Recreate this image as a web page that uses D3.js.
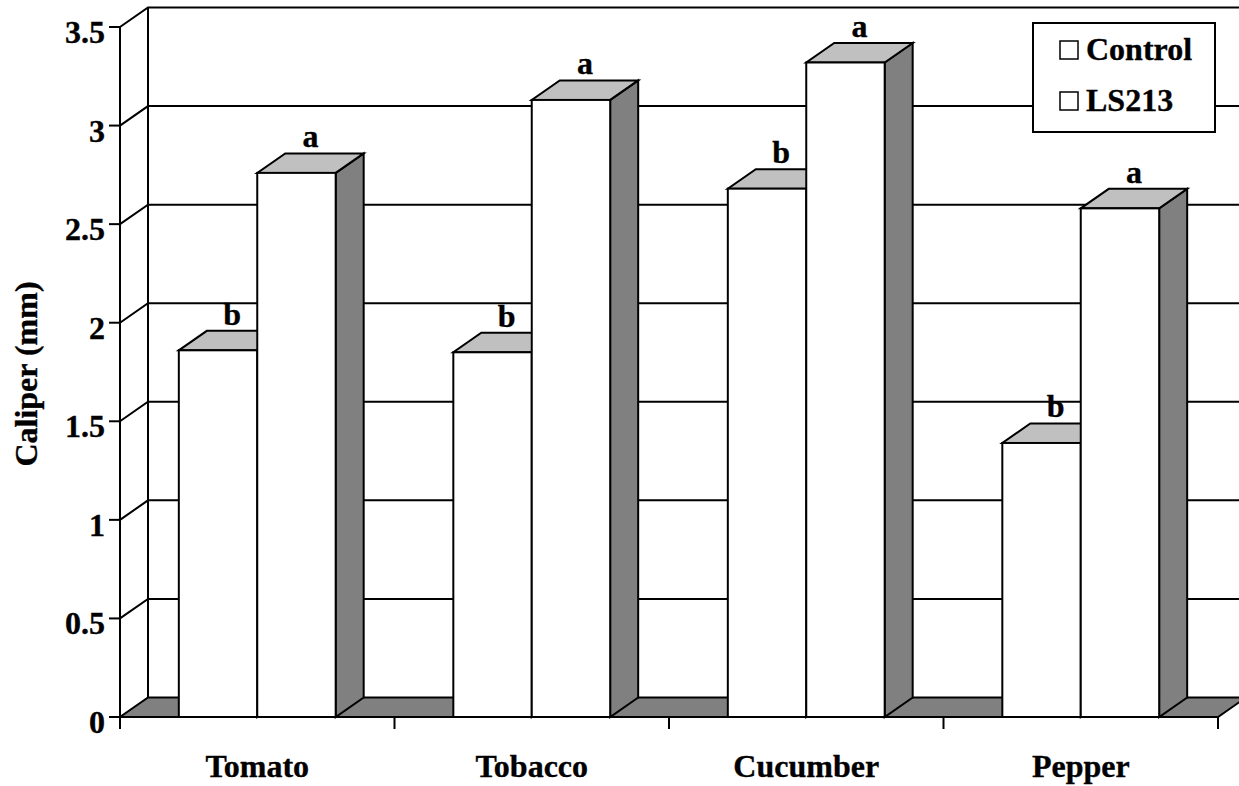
<!DOCTYPE html>
<html>
<head>
<meta charset="utf-8">
<script src="https://cdn.jsdelivr.net/npm/d3@7"></script>
<style>
  html, body { margin: 0; padding: 0; background: #fff; }
  svg { display: block; }
  text { font-family: "Liberation Serif", "Times New Roman", serif; font-weight: bold; fill: #000;
         stroke: #000; stroke-width: 0.35px; }
</style>
</head>
<body>
<script>
// Stem caliper by crop and treatment
const categories = ["Tomato", "Tobacco", "Cucumber", "Pepper"];
const seriesNames = ["Control", "LS213"];
const controlValues = [1.86, 1.85, 2.68, 1.39];
const ls213Values = [2.76, 3.13, 3.32, 2.58];
const controlLetters = ["b", "b", "b", "b"];
const ls213Letters = ["a", "a", "a", "a"];
const yTickValues = [0, 0.5, 1, 1.5, 2, 2.5, 3, 3.5];
const yTitle = "Caliper (mm)";

const W = 1239, H = 786;
const DX = 28, DY = -19.5;          // depth offset of the 3-D box
const STROKE = 2;
const FONT = 32;

const svg = d3.select("body").append("svg")
  .attr("width", W).attr("height", H);

const y = d3.scaleLinear().domain([0, 3.5]).range([717, 27]);
const x = d3.scaleBand().domain(categories).range([120, 1218]).padding(0);
const xs = d3.scaleBand().domain(seriesNames)
  .range([0, x.bandwidth()]).paddingInner(0).paddingOuter(0.75);

const x0 = x.range()[0], x1 = x.range()[1];
const yTop = y(3.5), yBase = y(0);

const pts = p => p.map(d => d.join(",")).join(" ");

// back wall
svg.append("rect")
  .attr("x", x0 + DX).attr("y", yTop + DY)
  .attr("width", x1 - x0).attr("height", yBase - yTop)
  .attr("fill", "#fff");

// gridlines across back wall and side wall
const grid = svg.append("g").attr("stroke", "#000").attr("stroke-width", STROKE).attr("fill", "none");
yTickValues.filter(v => v > 0).forEach(v => {
  grid.append("polyline")
    .attr("points", pts([[x0, y(v)], [x0 + DX, y(v) + DY], [x1 + DX, y(v) + DY]]));
});
// wall edges
grid.append("line")
  .attr("x1", x0 + DX).attr("y1", yTop + DY).attr("x2", x0 + DX).attr("y2", yBase + DY);
grid.append("line")
  .attr("x1", x0).attr("y1", yTop).attr("x2", x0).attr("y2", yBase);

// floor
svg.append("polygon")
  .attr("points", pts([[x0, yBase], [x1, yBase], [x1 + DX, yBase + DY], [x0 + DX, yBase + DY]]))
  .attr("fill", "#808080").attr("stroke", "#000").attr("stroke-width", STROKE)
  .attr("stroke-linejoin", "miter");

// bars
const seriesData = [
  { name: "Control", values: controlValues, letters: controlLetters },
  { name: "LS213", values: ls213Values, letters: ls213Letters }
];
const bars = svg.append("g");
categories.forEach((c, i) => {
  seriesData.forEach(s => {
    const v = s.values[i];
    const bx = x(c) + xs(s.name), bw = xs.bandwidth();
    const ty = y(v);
    const g = bars.append("g")
      .attr("stroke", "#000").attr("stroke-width", STROKE).attr("stroke-linejoin", "miter");
    // side face
    g.append("polygon")
      .attr("points", pts([[bx + bw, yBase], [bx + bw, ty], [bx + bw + DX, ty + DY], [bx + bw + DX, yBase + DY]]))
      .attr("fill", "#808080");
    // top face
    g.append("polygon")
      .attr("points", pts([[bx, ty], [bx + bw, ty], [bx + bw + DX, ty + DY], [bx + DX, ty + DY]]))
      .attr("fill", "#c0c0c0");
    // front face
    g.append("rect")
      .attr("x", bx).attr("y", ty).attr("width", bw).attr("height", yBase - ty)
      .attr("fill", "#fff");
    // significance letter
    bars.append("text")
      .attr("x", bx + bw / 2 + DX / 2).attr("y", ty + DY - 6)
      .attr("text-anchor", "middle").attr("font-size", FONT)
      .text(s.letters[i]);
  });
});

// y axis front line, ticks and labels
const yAxis = svg.append("g");
yAxis.append("line")
  .attr("x1", x0).attr("y1", yTop).attr("x2", x0).attr("y2", yBase)
  .attr("stroke", "#000").attr("stroke-width", STROKE);
yTickValues.forEach(v => {
  yAxis.append("line")
    .attr("x1", x0 - 11).attr("x2", x0).attr("y1", y(v)).attr("y2", y(v))
    .attr("stroke", "#000").attr("stroke-width", STROKE);
  yAxis.append("text")
    .attr("x", x0 - 15).attr("y", y(v) + 16)
    .attr("text-anchor", "end").attr("font-size", FONT)
    .text(d3.format("~g")(v));
});

// x axis ticks at category boundaries and labels
const xAxis = svg.append("g");
const bounds = categories.map(c => x(c)).concat([x1]);
bounds.forEach(bx => {
  xAxis.append("line")
    .attr("x1", bx).attr("x2", bx).attr("y1", yBase).attr("y2", yBase + 12)
    .attr("stroke", "#000").attr("stroke-width", STROKE);
});
categories.forEach(c => {
  xAxis.append("text")
    .attr("x", x(c) + x.bandwidth() / 2).attr("y", 777)
    .attr("text-anchor", "middle").attr("font-size", FONT)
    .text(c);
});

// y title
svg.append("text")
  .attr("transform", "translate(37,374) rotate(-90)")
  .attr("text-anchor", "middle").attr("font-size", FONT)
  .text(yTitle);

// legend
const lg = svg.append("g");
lg.append("rect")
  .attr("x", 1033).attr("y", 23).attr("width", 182).attr("height", 109)
  .attr("fill", "#fff").attr("stroke", "#000").attr("stroke-width", STROKE);
seriesNames.forEach((n, i) => {
  const ly = 60 + i * 51;
  lg.append("rect")
    .attr("x", 1060).attr("y", ly - 19).attr("width", 18).attr("height", 18)
    .attr("fill", "#fff").attr("stroke", "#000").attr("stroke-width", 1.5);
  lg.append("text")
    .attr("x", 1086).attr("y", ly).attr("font-size", FONT)
    .text(n);
});
</script>
</body>
</html>
